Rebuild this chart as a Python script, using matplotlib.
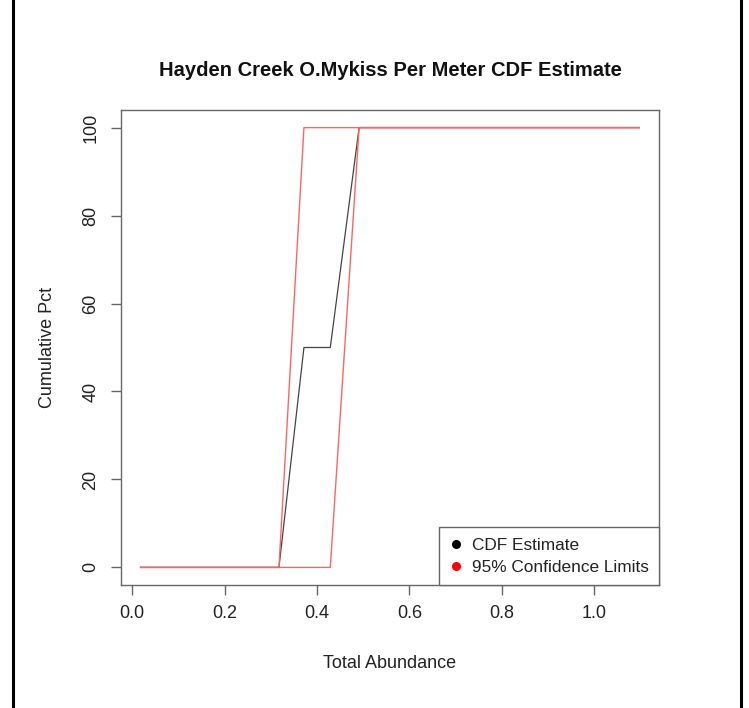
import matplotlib
matplotlib.use("Agg")
import matplotlib.pyplot as plt
from matplotlib.lines import Line2D

# Data
abundance = [0.018, 0.3175, 0.3716, 0.4286, 0.491, 1.097]
cdf_estimate = [0, 0, 50, 50, 100, 100]
upper_limit = [0, 0, 100, 100, 100, 100]
lower_limit = [0, 0, 0, 0, 100, 100]
x_ticks = [0.0, 0.2, 0.4, 0.6, 0.8, 1.0]
y_ticks = [0, 20, 40, 60, 80, 100]
legend_labels = ["CDF Estimate", "95% Confidence Limits"]
title = "Hayden Creek O.Mykiss Per Meter CDF Estimate"

plt.rcParams['font.family'] = ['Liberation Sans', 'DejaVu Sans']

W, H = 749, 708
fig = plt.figure(figsize=(W / 100, H / 100), dpi=100)
ax = fig.add_axes([120.7 / W, (H - 585) / H, (659 - 120.7) / W, (585 - 110) / H])

ax.plot(abundance, cdf_estimate, color='#444444', lw=0.9, zorder=2)
ax.plot(abundance, upper_limit, color='#ff6464', lw=1.0, zorder=3)
ax.plot(abundance, lower_limit, color='#ff6464', lw=1.0, zorder=3)

ax.set_xlim(-0.025, 1.14)
ax.set_ylim(-4, 104)
ax.set_xticks(x_ticks)
ax.set_xticklabels([f"{v:.1f}" for v in x_ticks])
ax.set_yticks(y_ticks)
ax.set_yticklabels([str(v) for v in y_ticks], rotation=90, va='center')

for s in ax.spines.values():
    s.set_color('#666666')
    s.set_linewidth(1.0)
ax.tick_params(axis='both', length=7.2, width=1.0, color='#666666',
               labelsize=13, labelcolor='#222222')
ax.tick_params(axis='x', pad=7)
ax.tick_params(axis='y', pad=8)

fig.text(390 / W, 1 - 70 / H, title, ha='center', va='center',
         fontsize=14.5, fontweight='bold', color='#111111')
fig.text(390 / W, 1 - 663 / H, "Total Abundance", ha='center', va='center',
         fontsize=13, color='#222222')
fig.text(48 / W, 1 - 347 / H, "Cumulative Pct", ha='center', va='center',
         rotation=90, fontsize=13, color='#222222')

handles = [Line2D([], [], ls='none', marker='o', color='black', markersize=5.5),
           Line2D([], [], ls='none', marker='o', color='red', markersize=5.5)]
leg = ax.legend(handles, legend_labels, loc='lower right', borderaxespad=0,
                fancybox=False, framealpha=1, edgecolor='#666666',
                fontsize=12.4, handlelength=0.8, handletextpad=0.5,
                borderpad=0.6, labelspacing=0.4)
leg.get_frame().set_linewidth(1.0)
for t in leg.get_texts():
    t.set_color('#222222')

# outer frame lines (left and right)
fig.add_artist(Line2D([13 / W, 13 / W], [0, 1], color='black', lw=2.2))
fig.add_artist(Line2D([741 / W, 741 / W], [0, 1], color='black', lw=2.2))

fig.savefig("out.png", dpi=100)
